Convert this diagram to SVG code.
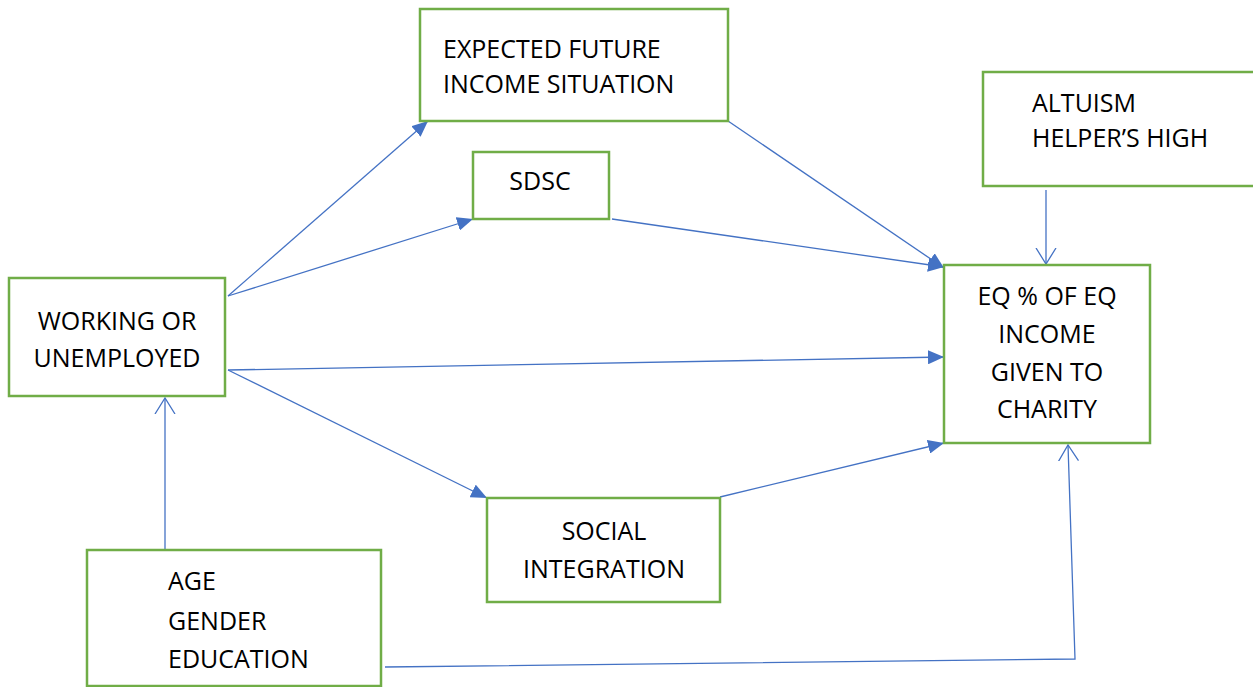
<svg xmlns="http://www.w3.org/2000/svg" width="1253" height="687" viewBox="0 0 1253 687">
<defs>
<style>
.box{fill:#fff;stroke:#70AD47;stroke-width:2.5}
.t{font-family:"Open Sans","Liberation Sans",sans-serif;font-size:25px;fill:#000}
.c{text-anchor:middle}
.ln{fill:none;stroke:#4472C4;stroke-width:1.3}
</style>
<marker id="fa" markerUnits="userSpaceOnUse" markerWidth="18" markerHeight="14" refX="16" refY="7" orient="auto">
<path d="M0,0 L16,7 L0,14 Z" fill="#4472C4"/>
</marker>
<marker id="oa" markerUnits="userSpaceOnUse" markerWidth="18" markerHeight="22" refX="16" refY="11" orient="auto">
<path d="M0,1 L16,11 L0,21" fill="none" stroke="#4472C4" stroke-width="1.3"/>
</marker>
</defs>
<rect width="1253" height="687" fill="#fff"/>
<g id="connectors">
<line class="ln" x1="228" y1="296" x2="428" y2="121" marker-end="url(#fa)"/>
<line class="ln" x1="228" y1="296" x2="473" y2="219" marker-end="url(#fa)"/>
<line class="ln" x1="612" y1="219" x2="944" y2="267" marker-end="url(#fa)"/>
<line class="ln" x1="728" y1="121" x2="944" y2="268" marker-end="url(#fa)"/>
<line class="ln" x1="228" y1="370" x2="944" y2="357" marker-end="url(#fa)"/>
<line class="ln" x1="228" y1="370" x2="487" y2="498" marker-end="url(#fa)"/>
<line class="ln" x1="720" y1="497" x2="944" y2="443" marker-end="url(#fa)"/>
<line class="ln" x1="1046" y1="190" x2="1046" y2="264" marker-end="url(#oa)"/>
<line class="ln" x1="165" y1="550" x2="165" y2="398" marker-end="url(#oa)"/>
<polyline class="ln" points="385,667 1075,659 1068,445" marker-end="url(#oa)"/>
</g>
<g id="expected">
<rect class="box" x="420" y="9" width="308" height="112"/>
<text class="t" x="443" y="58">EXPECTED FUTURE</text>
<text class="t" x="443" y="93">INCOME SITUATION</text>
</g>
<g id="sdsc">
<rect class="box" x="473" y="152" width="136" height="67"/>
<text class="t c" x="540" y="190">SDSC</text>
</g>
<g id="altruism">
<rect class="box" x="983" y="72" width="275" height="114"/>
<text class="t" x="1032" y="112">ALTUISM</text>
<text class="t" x="1032" y="147">HELPER’S HIGH</text>
</g>
<g id="eq">
<rect class="box" x="944" y="265" width="206" height="178"/>
<text class="t c" x="1047" y="305">EQ % OF EQ</text>
<text class="t c" x="1047" y="343">INCOME</text>
<text class="t c" x="1047" y="381">GIVEN TO</text>
<text class="t c" x="1047" y="418">CHARITY</text>
</g>
<g id="working">
<rect class="box" x="9" y="278" width="216" height="118"/>
<text class="t c" x="117" y="330">WORKING OR</text>
<text class="t c" x="117" y="367">UNEMPLOYED</text>
</g>
<g id="social">
<rect class="box" x="487" y="498" width="233" height="104"/>
<text class="t c" x="604" y="540">SOCIAL</text>
<text class="t c" x="604" y="578">INTEGRATION</text>
</g>
<g id="age">
<rect class="box" x="87" y="550" width="294" height="136"/>
<text class="t" x="168" y="590">AGE</text>
<text class="t" x="168" y="630">GENDER</text>
<text class="t" x="168" y="668">EDUCATION</text>
</g>
</svg>
